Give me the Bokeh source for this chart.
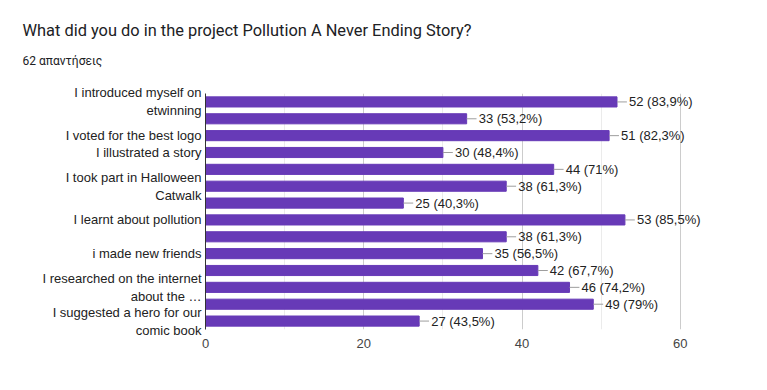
from bokeh.plotting import figure
from bokeh.models import Range1d, FixedTicker, Title
from bokeh.core.properties import value
from bokeh.embed import file_html
from bokeh.resources import INLINE

# ---- data ----
title_text = "What did you do in the project Pollution A Never Ending Story?"
subtitle_text = "62 απαντήσεις"
total_responses = 62
counts = [52, 33, 51, 30, 44, 38, 25, 53, 38, 35, 42, 46, 49, 27]
category_labels = [
    "I introduced myself on\netwinning",
    "",
    "I voted for the best logo",
    "I illustrated a story",
    "",
    "I took part in Halloween\nCatwalk",
    "",
    "I learnt about pollution",
    "",
    "i made new friends",
    "",
    "I researched on the internet\nabout the …",
    "",
    "I suggested a hero for our\ncomic book",
]
x_ticks = [0, 20, 40, 60]
x_minor_ticks = [10, 30, 50]
x_max = 69.5  # visible room to the right of 60 for the value labels


def fmt(c):
    v = round(c * 100 / total_responses, 1)
    s = f"{v:.1f}".replace(".", ",")
    if s.endswith(",0"):
        s = s[:-2]
    return f"{c} ({s}%)"


positions = list(range(1, len(counts) + 1))
value_labels = [fmt(c) for c in counts]

FONT = "Liberation Sans"

p = figure(width=760, height=385, output_backend="svg", toolbar_location=None,
           x_range=Range1d(0, x_max), y_range=Range1d(len(counts) + 0.5, 0.5),
           min_border_left=205, min_border_right=5, min_border_bottom=56,
           min_border_top=93)
p.outline_line_color = None
p.background_fill_color = "white"
p.border_fill_color = "white"

# titles
p.title.text = title_text
p.title.text_font = "Roboto"
p.title.text_font_size = "16.4px"
p.title.text_font_style = "normal"
p.title.text_color = "#202124"
p.title.align = "left"
p.title.offset = -183
p.title.standoff = -29

sub_title = Title(text=subtitle_text, text_font="Roboto", text_font_size="12px",
                  text_font_style="normal", text_color="#202124", align="left",
                  offset=-183, standoff=52)
p.add_layout(sub_title, "above")

# bars
p.hbar(y=positions, left=0, right=counts, height=0.6, color="#673ab7")

# leader lines and value labels
p.segment(x0=counts, y0=positions, x1=[c + 1.25 for c in counts], y1=positions,
          line_color="#9e9e9e", line_width=1)
p.text(x=counts, y=positions, text=value_labels, x_offset=12,
       text_baseline="middle", text_align="left",
       text_font=value(FONT), text_font_size="13px", text_color="#222222")

# x axis
p.xaxis.ticker = FixedTicker(ticks=x_ticks, minor_ticks=x_minor_ticks)
p.xaxis.axis_line_color = None
p.xaxis.major_tick_line_color = None
p.xaxis.minor_tick_line_color = None
p.xaxis.major_tick_out = 0
p.xaxis.minor_tick_out = 0
p.xaxis.major_label_standoff = 9
p.xaxis.major_label_text_font = FONT
p.xaxis.major_label_text_font_size = "13px"
p.xaxis.major_label_text_color = "#444444"

p.xgrid.grid_line_color = "#cccccc"
p.xgrid.minor_grid_line_color = "#ebebeb"
p.ygrid.grid_line_color = None

# y axis
label_pos = [pos for pos, lab in zip(positions, category_labels) if lab]
p.yaxis.ticker = FixedTicker(ticks=label_pos)
p.yaxis.major_label_overrides = {pos: lab for pos, lab in zip(positions, category_labels) if lab}
p.yaxis.axis_line_color = "#333333"
p.yaxis.major_tick_line_color = None
p.yaxis.minor_tick_line_color = None
p.yaxis.major_tick_out = 0
p.yaxis.minor_tick_out = 0
p.yaxis.major_label_standoff = 4
p.yaxis.major_label_text_font = FONT
p.yaxis.major_label_text_font_size = "13px"
p.yaxis.major_label_text_color = "#222222"

open("out.html", "w").write(file_html(p, INLINE))
